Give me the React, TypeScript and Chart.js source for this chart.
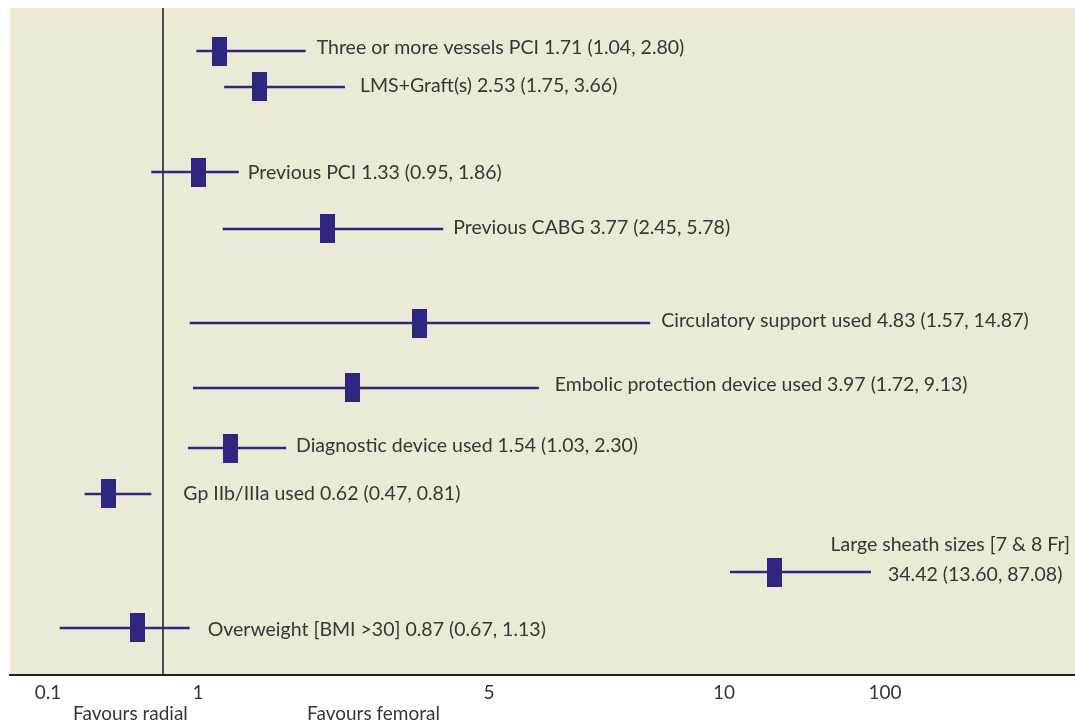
import React, { useEffect, useRef } from 'react';
import { Chart, registerables } from 'chart.js';

Chart.register(...registerables);

// ---------- data ----------
const FACTORS = [
  'Three or more vessels PCI',
  'LMS+Graft(s)',
  'Previous PCI',
  'Previous CABG',
  'Circulatory support used',
  'Embolic protection device used',
  'Diagnostic device used',
  'Gp IIb/IIIa used',
  'Large sheath sizes [7 & 8 Fr]',
  'Overweight [BMI >30]',
];
// values printed in the labels
const REPORTED_OR = [1.71, 2.53, 1.33, 3.77, 4.83, 3.97, 1.54, 0.62, 34.42, 0.87];
const REPORTED_LOW = [1.04, 1.75, 0.95, 2.45, 1.57, 1.72, 1.03, 0.47, 13.6, 0.67];
const REPORTED_HIGH = [2.8, 3.66, 1.86, 5.78, 14.87, 9.13, 2.3, 0.81, 87.08, 1.13];
// positions of the marks as read against the drawn (irregular) axis
const PLOT_POINT = [1.3, 1.85, 1.01, 2.78, 4.04, 3.12, 1.45, 0.46, 38.23, 0.64];
const PLOT_LOW = [0.99, 1.36, 0.72, 1.34, 0.95, 0.97, 0.94, 0.32, 13.35, 0.17];
const PLOT_HIGH = [2.48, 3.02, 1.56, 4.37, 8.43, 6.06, 2.21, 0.72, 92.17, 0.95];
// vertical row positions (0 = top, 100 = bottom of the panel)
const ROW_POS = [6.45, 11.84, 24.59, 33.13, 47.23, 56.97, 65.97, 72.86, 84.56, 92.95];
const REFERENCE_VALUE = 0.79;
const TICK_VALUES = [0.1, 1, 5, 10, 100];
const TICK_LABELS = ['0.1', '1', '5', '10', '100'];
const AXIS_LABELS = ['Favours radial', 'Favours femoral'];

// ---------- layout / style ----------
const TICK_FRACTIONS = [0.0357, 0.1765, 0.4498, 0.6704, 0.8216];
const LABEL_GAP = [11, 15, 9, 10, 11, 16, 10, 32, 17, 18];
const LABEL_DY = [2.5, 5.5, 7, 5.5, 3.5, 3, 4, 6.5, 9, 8];
const WRAPPED_ROW = 8;
const BG = '#ECE9D6';
const NAVY = '#2E2680';
const TEXT = '#363636';
const FONT_FAMILY = 'Lato, "Liberation Sans", sans-serif';
const LABEL_SIZE = 19.5;
const AXIS_SIZE = 19;

function toAxis(v: number): number {
  const n = TICK_VALUES.length;
  let i = 0;
  if (v <= TICK_VALUES[0]) i = 0;
  else if (v >= TICK_VALUES[n - 1]) i = n - 2;
  else {
    while (i < n - 2 && v > TICK_VALUES[i + 1]) i++;
  }
  const v0 = TICK_VALUES[i], v1 = TICK_VALUES[i + 1];
  const f0 = TICK_FRACTIONS[i], f1 = TICK_FRACTIONS[i + 1];
  return f0 + ((v - v0) / (v1 - v0)) * (f1 - f0);
}

const fmt = (v: number) => v.toFixed(2);

const forestPlugin = {
  id: 'forestDecor',
  beforeDraw(chart: any) {
    const { ctx, chartArea: a } = chart;
    ctx.save();
    ctx.fillStyle = BG;
    ctx.fillRect(a.left, a.top, a.right - a.left, a.bottom - a.top);
    ctx.restore();
  },
  afterDraw(chart: any) {
    const { ctx, chartArea: a } = chart;
    const xs = chart.scales.x;
    const ys = chart.scales.y;
    ctx.save();
    ctx.font = `${LABEL_SIZE}px ${FONT_FAMILY}`;
    ctx.fillStyle = TEXT;
    ctx.textBaseline = 'alphabetic';
    FACTORS.forEach((name, i) => {
      const px = xs.getPixelForValue(toAxis(PLOT_HIGH[i])) + LABEL_GAP[i];
      const py = ys.getPixelForValue(ROW_POS[i]) + LABEL_DY[i];
      const stats = `${fmt(REPORTED_OR[i])} (${fmt(REPORTED_LOW[i])}, ${fmt(REPORTED_HIGH[i])})`;
      if (i === WRAPPED_ROW) {
        ctx.textAlign = 'right';
        ctx.fillText(name, a.right - 5, py - 30);
        ctx.textAlign = 'left';
        ctx.fillText(stats, px, py);
      } else {
        ctx.textAlign = 'left';
        ctx.fillText(`${name} ${stats}`, px, py);
      }
    });
    ctx.font = `${AXIS_SIZE}px ${FONT_FAMILY}`;
    ctx.textAlign = 'left';
    ctx.fillText(AXIS_LABELS[0], a.left + 63, a.bottom + 45);
    ctx.fillText(AXIS_LABELS[1], a.left + 297, a.bottom + 45);
    ctx.restore();
  },
};

export default function App() {
  const canvasRef = useRef<HTMLCanvasElement | null>(null);

  useEffect(() => {
    let chart: Chart | null = null;
    let cancelled = false;

    const build = () => {
      if (cancelled || !canvasRef.current) return;
      const marker = document.createElement('canvas');
      marker.width = 15;
      marker.height = 29;
      const mctx = marker.getContext('2d')!;
      mctx.fillStyle = NAVY;
      mctx.fillRect(0, 0, 15, 29);

      const datasets: any[] = [
        {
          type: 'scatter',
          label: 'Odds ratio',
          data: PLOT_POINT.map((v, i) => ({ x: toAxis(v), y: ROW_POS[i] })),
          pointStyle: marker,
          pointRadius: 8,
          pointHoverRadius: 8,
          order: 0,
        },
        {
          type: 'line',
          label: 'Reference',
          data: [
            { x: toAxis(REFERENCE_VALUE), y: 0 },
            { x: toAxis(REFERENCE_VALUE), y: 100 },
          ],
          borderColor: '#1A1A1A',
          borderWidth: 1.5,
          pointRadius: 0,
          order: 2,
        },
        ...FACTORS.map((name, i) => ({
          type: 'line',
          label: name,
          data: [
            { x: toAxis(PLOT_LOW[i]), y: ROW_POS[i] },
            { x: toAxis(PLOT_HIGH[i]), y: ROW_POS[i] },
          ],
          borderColor: NAVY,
          borderWidth: 2.5,
          pointRadius: 0,
          order: 1,
        })),
      ];

      chart = new Chart(canvasRef.current, {
        type: 'scatter',
        data: { datasets },
        options: {
          animation: false,
          responsive: false,
          maintainAspectRatio: false,
          devicePixelRatio: 1,
          layout: { autoPadding: false, padding: { left: 10, top: 8, right: 0, bottom: 0 } },
          plugins: { legend: { display: false }, tooltip: { enabled: false } },
          scales: {
            x: {
              type: 'linear',
              min: 0,
              max: 1,
              grid: { display: false, drawTicks: false },
              border: { display: true, color: '#222222', width: 2 },
              ticks: {
                font: { family: FONT_FAMILY, size: AXIS_SIZE },
                color: TEXT,
                padding: 6,
                autoSkip: false,
                maxRotation: 0,
                callback: (_v: any, i: number) => TICK_LABELS[i] ?? '',
              },
              afterBuildTicks: (s: any) => {
                s.ticks = TICK_VALUES.map((v) => ({ value: toAxis(v) }));
              },
              afterFit: (s: any) => {
                s.height = 50;
              },
            },
            y: {
              type: 'linear',
              min: 0,
              max: 100,
              reverse: true,
              display: false,
            },
          },
        } as any,
        plugins: [forestPlugin],
      });
    };

    const fonts: any = (document as any).fonts;
    if (fonts && fonts.load) {
      fonts.load(`${LABEL_SIZE}px Lato`).then(build, build);
    } else build();

    return () => {
      cancelled = true;
      if (chart) chart.destroy();
    };
  }, []);

  return (
    <div style={{ position: 'absolute', left: 0, top: 0, width: 1075, height: 725, background: '#fff' }}>
      <canvas ref={canvasRef} width={1075} height={725} style={{ width: 1075, height: 725, display: 'block' }} />
    </div>
  );
}
